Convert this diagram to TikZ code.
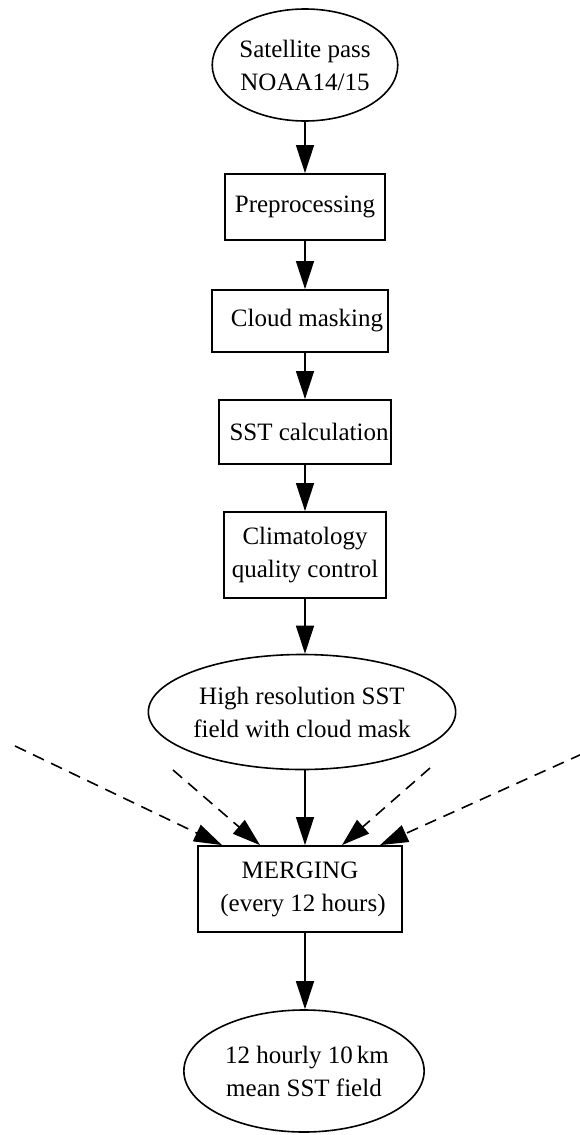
\documentclass[tikz,border=0pt]{standalone}
\usepackage{fontspec}
\setmainfont{Liberation Serif}
\usetikzlibrary{shapes.geometric,arrows.meta}
\begin{document}
\begin{tikzpicture}[x=1pt,y=-1pt,
  every node/.style={font=\fontsize{25}{33}\selectfont, align=center, inner sep=0pt},
  procbox/.style={draw, line width=1.8pt, rectangle},
  oval/.style={draw, line width=1.6pt, ellipse},
  flow/.style={line width=1.3pt, -{Triangle[length=28pt,width=18pt]}},
  feed/.style={flow, line width=1.6pt, dash pattern=on 12pt off 8pt}
]
\useasboundingbox (0,0) rectangle (580,1135);
\node[oval, minimum width=184pt, minimum height=112pt] (sat) at (305,65) {Satellite pass\\NOAA14/15};
\node[procbox, minimum width=160pt, minimum height=66pt] (pre) at (305,207) {Preprocessing};
\node[procbox, minimum width=176pt, minimum height=62pt] (cloud) at (300,321) {\hspace*{14pt}Cloud masking};
\node[procbox, minimum width=172pt, minimum height=64pt] (sst) at (305,432) {\hspace*{8pt}SST calculation};
\node[procbox, minimum width=162pt, minimum height=86pt] (clim) at (305,555) {Climatology\\quality control};
\node[oval, minimum width=244pt, minimum height=115pt] (hires) at (302,712) {High resolution SST\\field with cloud mask};
\node[procbox, minimum width=204pt, minimum height=86pt] (merge) at (300,889) {MERGING\\\hspace*{6pt}(every 12 hours)};
\node[oval, minimum width=232pt, minimum height=122pt] (mean) at (304,1071) {\hspace*{6pt}12 hourly 10\,km\\mean SST field};

\coordinate (lo) at (15,746);
\coordinate (li) at (173,770);
\coordinate (ri) at (430,768);
\coordinate (ro) at (582,754);

\draw[flow] (sat.south -| pre.south) -- (pre);
\draw[flow] (pre) -- (cloud.north -| pre.south);
\draw[flow] (cloud.south -| pre.south) -- (sst.north -| pre.south);
\draw[flow] (sst) -- (clim);
\draw[flow] (clim.south -| pre.south) -- (hires.north -| pre.south);
\draw[flow] (hires.south -| pre.south) -- (merge.north -| pre.south);
\draw[flow] (merge.south -| pre.south) -- (mean.north -| pre.south);

\draw[feed] (lo) -- ([xshift=-78pt]merge.north);
\draw[feed] (li) -- ([xshift=-40pt]merge.north);
\draw[feed] (ri) -- ([xshift=42pt]merge.north);
\draw[feed] (ro) -- ([xshift=80pt]merge.north);
\end{tikzpicture}
\end{document}
